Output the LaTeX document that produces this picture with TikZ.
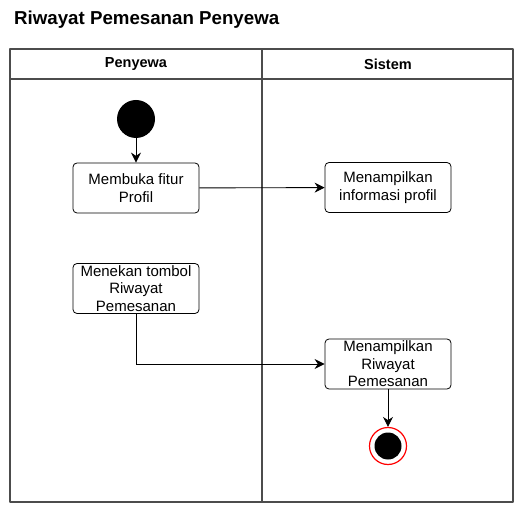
\documentclass[tikz,border=0pt]{standalone}
\usepackage{fontspec}
\setmainfont{Liberation Sans}
\usepackage{tkz-euclide}
\usetikzlibrary{arrows.meta,positioning}

\tikzset{
  aksi/.style={draw=black,rounded corners=4pt,minimum width=126pt,minimum height=50pt,
    align=center,font=\fontsize{15}{17.5}\selectfont,inner sep=0pt,line width=0.8pt},
  alur/.style={draw=black,line width=0.9pt,-{Stealth[length=10pt,width=10pt]}},
  lajur/.style={font=\bfseries\fontsize{14.5}{16}\selectfont}
}

\begin{document}
\begin{tikzpicture}[x=1pt,y=1pt]
\useasboundingbox (0,0) rectangle (524,514);

\node[anchor=west,font=\bfseries\fontsize{18.7}{21}\selectfont,inner sep=0pt] (judul) at (14,494) {Riwayat Pemesanan Penyewa};

\tkzDefPoint(10,12){A}
\tkzDefPoint(513,12){B}
\tkzDefPoint(513,465){C}
\tkzDefPoint(10,465){D}
  \tkzDefPoint(10,435){hA}
  \tkzDefPoint(513,435){hB}
  \tkzDefPoint(262,12){mA}
  \tkzDefPoint(262,465){mB}
\tkzDrawPolygon[draw=black!70,line width=1.1pt](A,B,C,D)
\tkzDrawSegment[draw=black!70,line width=1.1pt](hA,hB)
\tkzDrawSegment[draw=black!70,line width=1.1pt](mA,mB)

  \node[lajur] (penyewa) at (136,450) {Penyewa};
  \node[lajur] (sistem) at (388,450) {Sistem};

% penyewa
\node[circle,fill=black,minimum size=38pt,inner sep=0pt] (mulai) at (136,395) {};
\node[aksi] (fitur) at (136,326) {Membuka fitur\\Profil};
\node[aksi] (tombol) at (136,225.5) {Menekan tombol\\Riwayat\\Pemesanan};

% sistem
\node[aksi] (profil) at (388,326.5) {Menampilkan\\informasi profil};
\node[aksi] (riwayat) at (388,150) {Menampilkan\\Riwayat\\Pemesanan};
\node[circle,draw=red,line width=1.2pt,minimum size=37pt,inner sep=0pt] (selesai) at (388,68) {};
\node[circle,fill=black,minimum size=27pt,inner sep=0pt] at (selesai) {};

  \draw[alur] (mulai) -- (fitur);
  \draw[alur] (fitur) -- (profil);
  \draw[alur] (tombol) |- (riwayat);
  \draw[alur] (riwayat) -- (selesai);

\end{tikzpicture}
\end{document}
